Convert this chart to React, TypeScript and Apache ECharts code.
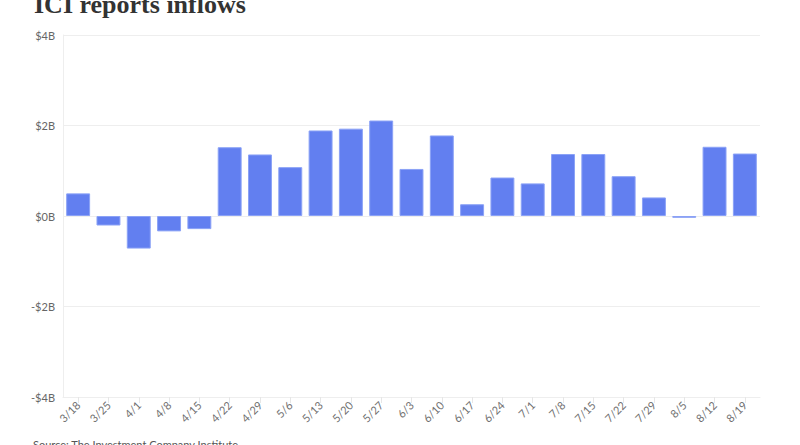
import React, { useEffect, useRef } from "react";
import * as echarts from "echarts";

const categories = [
  "3/18", "3/25", "4/1", "4/8", "4/15", "4/22", "4/29", "5/6", "5/13", "5/20", "5/27", "6/3",
  "6/10", "6/17", "6/24", "7/1", "7/8", "7/15", "7/22", "7/29", "8/5", "8/12", "8/19",
];
const inflows = [
  0.5, -0.21, -0.72, -0.34, -0.29, 1.52, 1.36, 1.08, 1.89, 1.93, 2.11, 1.04,
  1.78, 0.26, 0.85, 0.72, 1.37, 1.37, 0.88, 0.41, -0.04, 1.53, 1.38,
];
const yTicks = { min: -4, max: 4, interval: 2 };
const titleText = "ICI reports inflows";
const sourceText = "Source: The Investment Company Institute";

export default function App() {
  const ref = useRef<HTMLDivElement>(null);
  useEffect(() => {
    document.body.style.margin = "0";
    const chart = echarts.init(ref.current!, null, { renderer: "svg" });
    chart.setOption({
      animation: false,
      backgroundColor: "#ffffff",
      grid: { left: 63, right: 40, top: 35, bottom: 48, containLabel: false },
      xAxis: {
        type: "category",
        data: categories,
        position: "bottom",
        axisLine: { show: true, onZero: false, lineStyle: { color: "#eeeeee" } },
        axisTick: { show: true, alignWithLabel: true, length: 6, lineStyle: { color: "#e6e6e6" } },
        axisLabel: {
          rotate: 45,
          interval: 0,
          fontFamily: "Lato",
          fontSize: 11,
          color: "#707070",
          margin: 6,
        },
      },
      yAxis: {
        type: "value",
        min: yTicks.min,
        max: yTicks.max,
        interval: yTicks.interval,
        axisLine: { show: true, lineStyle: { color: "#eeeeee" } },
        axisTick: { show: false },
        splitLine: { show: true, lineStyle: { color: "#eeeeee" } },
        axisLabel: {
          fontFamily: "Lato",
          fontSize: 11,
          color: "#666666",
          margin: 8,
          formatter: (v: number) => (v < 0 ? `-$${-v}B` : `$${v}B`),
        },
      },
      series: [
        {
          type: "bar",
          data: inflows,
          barCategoryGap: "21%",
          itemStyle: { color: "#627ff0", borderColor: "#8ba2f6", borderWidth: 1 },
        },
      ],
      graphic: [
        {
          type: "text",
          left: 34,
          top: -9,
          style: {
            text: titleText,
            font: "bold 26px 'Liberation Serif'",
            fill: "#333333",
          },
        },
        {
          type: "text",
          left: 33,
          top: 439,
          style: {
            text: sourceText,
            font: "11px Lato",
            fill: "#555555",
          },
        },
      ],
    });
    return () => chart.dispose();
  }, []);
  return <div ref={ref} style={{ width: 800, height: 445 }} />;
}
